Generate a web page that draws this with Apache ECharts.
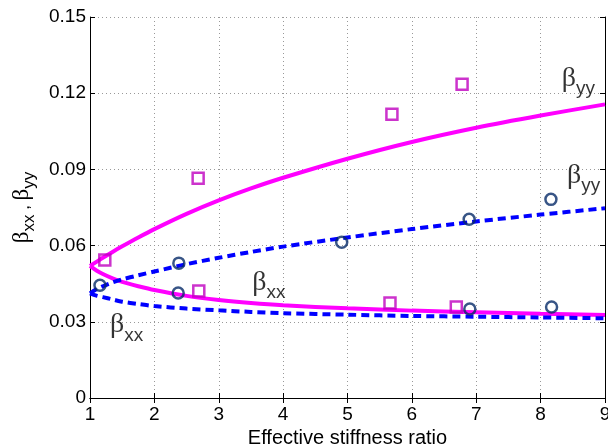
<!DOCTYPE html>
<html>
<head>
<meta charset="utf-8">
<script src="https://cdn.jsdelivr.net/npm/echarts@6/dist/echarts.min.js"></script>
<style>
html,body{margin:0;padding:0;background:#fff;}
#chart{width:608px;height:448px;}
</style>
</head>
<body>
<div id="chart"></div>
<script>
// Fitted curves (x sampled along effective stiffness ratio)
const curveX      = [1, 1.1, 1.2, 1.35, 1.5, 1.75, 2, 2.5, 3, 3.5, 4, 5, 6, 7, 8, 9];
const magentaYY   = [0.0520, 0.0536, 0.0552, 0.0575, 0.0597, 0.0632, 0.0665, 0.0725, 0.0778, 0.0825, 0.0867, 0.0942, 0.1008, 0.1064, 0.1112, 0.1156];
const magentaXX   = [0.0520, 0.0502, 0.0488, 0.0471, 0.0457, 0.0440, 0.0425, 0.0402, 0.0386, 0.0374, 0.0365, 0.0353, 0.0344, 0.0338, 0.0332, 0.0327];
const blueYY      = [0.0412, 0.0428, 0.0440, 0.0455, 0.0467, 0.0483, 0.0498, 0.0527, 0.0552, 0.0575, 0.0596, 0.0632, 0.0665, 0.0695, 0.0722, 0.0747];
const blueXX      = [0.0412, 0.0403, 0.0397, 0.0388, 0.0379, 0.0370, 0.0362, 0.0352, 0.0345, 0.0339, 0.0334, 0.0328, 0.0323, 0.0320, 0.0317, 0.0314];

// Measured points
const squareX = [1.23, 2.68, 2.69, 5.69, 5.66, 6.78, 6.69];
const squareY = [0.0543, 0.0865, 0.0421, 0.1117, 0.0374, 0.1235, 0.0358];
const circleX = [1.155, 2.38, 2.37, 4.91, 6.89, 6.90, 8.16, 8.17];
const circleY = [0.0444, 0.0531, 0.0413, 0.0613, 0.0704, 0.0350, 0.0782, 0.0358];

// Curve annotations
const noteX   = [8.33, 8.41, 3.52, 1.31];
const noteY   = [0.1313, 0.0932, 0.0511, 0.0342];
const noteSub = ['yy', 'yy', 'xx', 'xx'];

const xTicks = [1, 9, 1];      // min, max, interval
const yTicks = [0, 0.15, 0.03];

const zip = (a, b) => a.map((v, i) => [v, b[i]]);
const sans = 'Liberation Sans, Arial, Helvetica, sans-serif';
const serif = 'Liberation Serif, DejaVu Serif, serif';
const greekRich = {
  b: {fontFamily: serif, fontSize: 28, lineHeight: 26, verticalAlign: 'top', color: '#000'},
  s: {fontFamily: sans, fontSize: 19, lineHeight: 18, verticalAlign: 'top', padding: [15, 0, 0, 0], color: '#000'}
};
const nameRich = {
  b: {fontFamily: serif, fontSize: 23, lineHeight: 22, verticalAlign: 'top', color: '#000'},
  s: {fontFamily: sans, fontSize: 17, lineHeight: 16, verticalAlign: 'top', padding: [11, 0, 0, 0], color: '#000'},
  c: {fontFamily: sans, fontSize: 17, lineHeight: 16, verticalAlign: 'top', padding: [6, 0, 0, 0], color: '#000'}
};

const chart = echarts.init(document.getElementById('chart'), null, {renderer: 'canvas'});
const axisCommon = {
  axisLine: {show: true, lineStyle: {color: '#000', width: 1}},
  axisTick: {show: true, inside: true, length: 5, lineStyle: {color: '#000'}},
};
const option = {
  animation: false,
  backgroundColor: '#fff',
  grid: {left: 90, right: 3, top: 17, bottom: 50, containLabel: false, outerBoundsMode: 'none'},
  xAxis: [
    Object.assign({
      type: 'value', min: xTicks[0], max: xTicks[1], interval: xTicks[2], position: 'bottom',
      name: 'Effective stiffness ratio', nameLocation: 'middle', nameGap: 27,
      nameTextStyle: {fontFamily: sans, fontSize: 20, color: '#000'},
      axisLabel: {fontFamily: sans, fontSize: 19, color: '#000', margin: 7, hideOverlap: false},
      splitLine: {show: true, lineStyle: {type: [1, 3], color: '#999', width: 1}}
    }, axisCommon),
    Object.assign({
      type: 'value', min: xTicks[0], max: xTicks[1], interval: xTicks[2], position: 'top',
      axisLabel: {show: false}, splitLine: {show: false}
    }, axisCommon)
  ],
  yAxis: [
    Object.assign({
      type: 'value', min: yTicks[0], max: yTicks[1], interval: yTicks[2], position: 'left',
      name: '{b|β}{s|xx}{c| , }{b|β}{s|yy}', nameLocation: 'middle', nameGap: 58, nameRotate: 90,
      nameTextStyle: {rich: nameRich},
      axisLabel: {fontFamily: sans, fontSize: 19, color: '#000', margin: 4,
        formatter: v => v === 0 ? '0' : v.toFixed(2)},
      splitLine: {show: true, lineStyle: {type: [1, 3], color: '#999', width: 1}}
    }, axisCommon),
    Object.assign({
      type: 'value', min: yTicks[0], max: yTicks[1], interval: yTicks[2], position: 'right',
      axisLabel: {show: false}, splitLine: {show: false}
    }, axisCommon)
  ],
  series: [
    {type: 'line', data: zip(curveX, magentaYY), smooth: 0.3, showSymbol: false, symbol: 'none',
      lineStyle: {color: '#ff00ff', width: 4}, z: 2},
    {type: 'line', data: zip(curveX, magentaXX), smooth: 0.3, showSymbol: false, symbol: 'none',
      lineStyle: {color: '#ff00ff', width: 4}, z: 2},
    {type: 'line', data: zip(curveX, blueYY), smooth: 0.3, showSymbol: false, symbol: 'none',
      lineStyle: {color: '#0000ff', width: 4, type: [8, 5]}, z: 2},
    {type: 'line', data: zip(curveX, blueXX), smooth: 0.3, showSymbol: false, symbol: 'none',
      lineStyle: {color: '#0000ff', width: 4, type: [8, 5]}, z: 2},
    {type: 'scatter', data: zip(squareX, squareY), symbol: 'rect', symbolSize: 11,
      itemStyle: {color: 'rgba(0,0,0,0)', borderColor: '#bf00bf', borderWidth: 2.5}, z: 3},
    {type: 'scatter', data: zip(circleX, circleY), symbol: 'circle', symbolSize: 11,
      itemStyle: {color: 'rgba(0,0,0,0)', borderColor: '#062a68', borderWidth: 2.5}, z: 3},
    {type: 'scatter', symbolSize: 0, silent: true, z: 4,
      itemStyle: {color: '#000'},
      data: noteX.map((x, i) => ({value: [x, noteY[i]], sub: noteSub[i]})),
      label: {show: true, position: [0, 0], align: 'left', verticalAlign: 'top',
        color: '#000', textBorderWidth: 0,
        formatter: p => '{b|β}{s|' + p.data.sub + '}', rich: greekRich}}
  ]
};
chart.setOption(option);
</script>
</body>
</html>
